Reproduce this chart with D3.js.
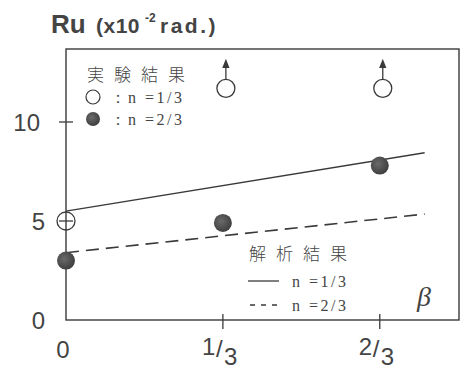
<!DOCTYPE html>
<html><head><meta charset="utf-8">
<script src="https://cdn.jsdelivr.net/npm/d3@7"></script>
<style>body{margin:0;background:#fff}svg{display:block}</style>
</head><body><svg id="c" width="460" height="374"></svg>
<script>
// ---- data ----
const xTickValues = [0, 1/3, 2/3];
const xTickNums = ["0", "1", "2"];
const xTickDens = ["", "3", "3"];
const yTickValues = [0, 5, 10];
const yTickLabels = ["0", "5", "10"];
// experimental: open circles (n=1/3), arrows mean "greater than"
const openBeta = [0, 1/3, 2/3];
const openRu = [5.0, 11.7, 11.7];
const openArrow = [false, true, true];
// experimental: filled circles (n=2/3)
const filledBeta = [0, 1/3, 2/3];
const filledRu = [3.0, 4.9, 7.8];
// analysis lines
const lineBeta = [0, 0.762];
const lineRu13 = [5.5, 8.45];
const lineRu23 = [3.4, 5.35];

const svg = d3.select("#c");
const ink = "#3a3a3a";
const sans = "Liberation Sans, Arial, sans-serif";
const serif = "Liberation Serif, serif";
const x = d3.scaleLinear().domain([0, 0.835]).range([66, 459]);
const y = d3.scaleLinear().domain([0, 10]).range([320, 122]);

// frame
const g = svg.append("g");
g.append("rect").attr("x", x(0)).attr("y", 49).attr("width", x(0.835) - x(0)).attr("height", y(0) - 49)
  .attr("fill", "none").attr("stroke", ink).attr("stroke-width", 1.4);

// y ticks
g.selectAll(".yt").data(yTickValues.filter(v => v > 0)).join("line")
  .attr("x1", x(0) - 7).attr("x2", x(0) + 7).attr("y1", d => y(d)).attr("y2", d => y(d))
  .attr("stroke", ink).attr("stroke-width", 1.3);
g.selectAll(".yl").data(yTickValues).join("text")
  .attr("x", d => d >= 10 ? 40 : 45).attr("y", d => y(d) + 9).attr("text-anchor", "end")
  .attr("font-family", sans).attr("font-size", 24).attr("fill", "#444")
  .text((d, i) => yTickLabels[i]);

// x ticks
g.selectAll(".xt").data(xTickValues.filter(v => v > 0)).join("line")
  .attr("x1", d => x(d)).attr("x2", d => x(d)).attr("y1", y(0) - 6).attr("y2", y(0) + 9)
  .attr("stroke", ink).attr("stroke-width", 1.3);
xTickValues.forEach((v, i) => {
  const base = { "font-family": sans, "font-size": 24, "fill": "#444" };
  const mk = (tx, ty, s, anchor) => {
    const t = g.append("text").attr("x", tx).attr("y", ty).attr("text-anchor", anchor || "start").text(s);
    Object.entries(base).forEach(([k, val]) => t.attr(k, val));
  };
  if (xTickDens[i] === "") {
    mk(x(v) - 3, 358, xTickNums[i], "middle");
  } else {
    mk(x(v) - 21, 355, xTickNums[i]);
    mk(x(v) - 7, 357, "/");
    mk(x(v) + 1, 365, xTickDens[i]);
  }
});

// analysis lines
const lineGen = d3.line().x(d => x(d[0])).y(d => y(d[1]));
g.append("path").datum(lineBeta.map((b, i) => [b, lineRu13[i]])).attr("d", lineGen)
  .attr("fill", "none").attr("stroke", ink).attr("stroke-width", 1.4);
g.append("path").datum(lineBeta.map((b, i) => [b, lineRu23[i]])).attr("d", lineGen)
  .attr("fill", "none").attr("stroke", ink).attr("stroke-width", 1.6).attr("stroke-dasharray", "13,7");

// gradient for filled dots
const defs = svg.append("defs");
const rg = defs.append("radialGradient").attr("id", "dot").attr("cx", "40%").attr("cy", "40%").attr("r", "65%");
rg.append("stop").attr("offset", "0%").attr("stop-color", "#6a6a6a");
rg.append("stop").attr("offset", "100%").attr("stop-color", "#3c3c3c");

// filled dots
g.selectAll(".fd").data(filledBeta).join("circle")
  .attr("cx", d => x(d)).attr("cy", (d, i) => y(filledRu[i])).attr("r", 9)
  .attr("fill", "url(#dot)");

// open dots
g.selectAll(".od").data(openBeta).join("circle")
  .attr("cx", (d, i) => x(d) + (openArrow[i] ? 3 : 0)).attr("cy", (d, i) => y(openRu[i])).attr("r", 9)
  .attr("fill", "none").attr("stroke", ink).attr("stroke-width", 1.3);

// arrows on open dots
defs.append("marker").attr("id", "ah").attr("viewBox", "0 0 10 10").attr("refX", 5).attr("refY", 5)
  .attr("markerWidth", 7).attr("markerHeight", 9).attr("orient", "auto")
  .append("path").attr("d", "M0,1 L10,5 L0,9 Z").attr("fill", ink);
openBeta.forEach((b, i) => {
  if (!openArrow[i]) return;
  g.append("line").attr("x1", x(b) + 3).attr("x2", x(b) + 3)
    .attr("y1", y(openRu[i]) - 9).attr("y2", y(openRu[i]) - 25)
    .attr("stroke", ink).attr("stroke-width", 1.3).attr("marker-end", "url(#ah)");
});

// title
const title = (tx, ty, s, size, ls) => svg.append("text").attr("x", tx).attr("y", ty)
  .attr("font-family", sans).attr("font-weight", "bold").attr("fill", "#444")
  .attr("font-size", size).attr("letter-spacing", ls || 0).text(s);
title(51, 33, "Ru", 26, 0);
title(96, 33, "(x10", 21, 0.5);
title(145, 22, "-2", 12, 0);
title(160, 33, "rad.)", 21, 2.5);

// legends
const jp = "Noto Sans CJK JP, sans-serif";
const leg = svg.append("g").attr("fill", "#444");
leg.append("text").attr("x", 87).attr("y", 81).attr("font-family", jp).attr("font-size", 17)
  .attr("letter-spacing", 10).attr("font-weight", 300).text("実験結果");
leg.append("circle").attr("cx", 93).attr("cy", 97).attr("r", 7).attr("fill", "none").attr("stroke", ink).attr("stroke-width", 1.2);
leg.append("circle").attr("cx", 93).attr("cy", 119).attr("r", 7).attr("fill", "url(#dot)");
const lt = ["n =1/3", "n =2/3"];
lt.forEach((s, i) => {
  leg.append("text").attr("x", 110).attr("y", 103 + i * 22).attr("font-family", serif)
    .attr("font-size", 16).text("：");
  leg.append("text").attr("x", 128).attr("y", 103 + i * 22).attr("font-family", serif)
    .attr("font-size", 16).attr("letter-spacing", 2.5).text(s);
});
leg.append("text").attr("x", 249).attr("y", 260).attr("font-family", jp).attr("font-size", 17)
  .attr("letter-spacing", 10).attr("font-weight", 300).text("解析結果");
leg.append("line").attr("x1", 248).attr("x2", 279).attr("y1", 281).attr("y2", 281).attr("stroke", ink).attr("stroke-width", 1.3);
leg.append("line").attr("x1", 250).attr("x2", 281).attr("y1", 305).attr("y2", 305).attr("stroke", ink).attr("stroke-width", 1.3).attr("stroke-dasharray", "5,6");
leg.append("text").attr("x", 292).attr("y", 287).attr("font-family", serif).attr("font-size", 16).attr("letter-spacing", 2.5).text("n =1/3");
leg.append("text").attr("x", 292).attr("y", 311).attr("font-family", serif).attr("font-size", 16).attr("letter-spacing", 2.5).text("n =2/3");
leg.append("text").attr("x", 417).attr("y", 306).attr("font-family", serif)
  .attr("font-style", "italic").attr("font-size", 28).text("β");
</script></body></html>
